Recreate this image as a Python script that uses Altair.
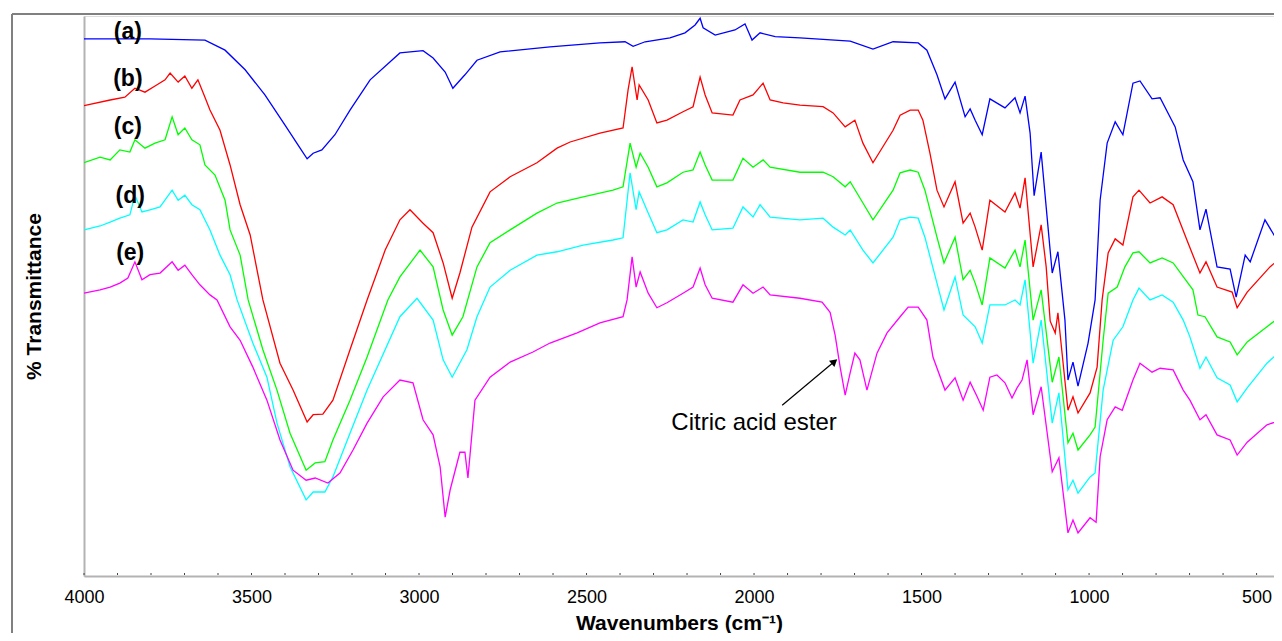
import altair as alt
import pandas as pd

FONT = "Liberation Sans"
W, H = 1190, 560

# ---- spectra (wavenumber, % transmittance, arbitrary offset units) ----
a_wn = [4000, 3803, 3639, 3579, 3519, 3460, 3400, 3355, 3334, 3316, 3290, 3251, 3206, 3146, 3057, 2988, 2958, 2922, 2899, 2863,
        2827, 2758, 2609, 2460, 2385, 2361, 2325, 2251, 2206, 2176, 2161, 2152, 2116, 2057, 2027, 2006, 1982, 1937, 1863, 1713,
        1645, 1585, 1510, 1484, 1454, 1430, 1400, 1370, 1355, 1340, 1319, 1296, 1251, 1221, 1206, 1191, 1176, 1164, 1143, 1110,
        1093, 1072, 1063, 1048, 1033, 1003, 982, 967, 946, 922, 899, 869, 848, 812, 788, 743, 719, 690, 669, 651,
        618, 579, 561, 534, 519, 475, 439, 424]
a_val = [95.9, 95.9, 95.7, 93.9, 90.4, 85.9, 80.5, 76.4, 74.5, 75.5, 76.1, 78.8, 83.2, 88.6, 93.4, 93.8, 92.5, 90.0, 87.1, 89.5,
         92.1, 93.6, 94.5, 95.2, 95.4, 94.6, 95.4, 96.1, 97.0, 98.4, 99.6, 97.9, 96.6, 97.5, 98.6, 95.7, 97.0, 96.3, 96.1, 95.5,
         94.1, 95.4, 95.2, 93.9, 89.5, 85.2, 88.2, 82.0, 83.4, 81.4, 78.8, 85.2, 83.6, 85.4, 82.7, 85.7, 79.1, 67.9, 75.7, 54.1,
         57.9, 45.7, 35.0, 38.2, 33.9, 41.6, 49.3, 67.1, 77.3, 81.1, 78.8, 88.0, 88.4, 85.2, 85.4, 80.2, 74.3, 70.4, 61.8, 65.5,
         55.2, 54.8, 49.8, 57.3, 56.1, 63.6, 60.0, 64.8]

b_wn = [4000, 3922, 3878, 3848, 3818, 3788, 3758, 3743, 3719, 3699, 3678, 3660, 3639, 3624, 3594, 3564, 3534, 3504, 3466, 3415,
        3376, 3334, 3316, 3287, 3257, 3206, 3155, 3101, 3057, 3027, 2988, 2958, 2928, 2901, 2878, 2842, 2788, 2728, 2648, 2588,
        2549, 2460, 2391, 2376, 2364, 2349, 2343, 2316, 2290, 2260, 2212, 2182, 2161, 2146, 2125, 2063, 2042, 2003, 1973, 1952,
        1913, 1863, 1794, 1764, 1728, 1699, 1675, 1645, 1585, 1564, 1534, 1510, 1496, 1475, 1454, 1433, 1400, 1376, 1355, 1340,
        1319, 1296, 1251, 1221, 1206, 1191, 1167, 1143, 1128, 1116, 1101, 1093, 1063, 1048, 1033, 997, 976, 961, 943, 922,
        899, 869, 851, 818, 782, 749, 708, 669, 651, 618, 573, 558, 528, 460, 424]
b_val = [84.0, 85.0, 85.5, 87.1, 86.4, 87.5, 88.6, 89.8, 88.2, 89.3, 87.1, 88.6, 85.5, 83.2, 79.6, 73.4, 66.3, 60.9, 49.3, 38.0,
         33.2, 27.5, 28.8, 28.9, 31.4, 40.4, 49.3, 58.2, 63.6, 65.4, 63.0, 61.3, 55.9, 49.6, 54.1, 62.3, 68.6, 71.3, 73.8, 76.4,
         77.5, 79.1, 80.0, 86.8, 90.9, 85.0, 87.7, 85.0, 80.9, 81.4, 82.9, 83.8, 89.1, 85.9, 82.7, 82.3, 85.0, 85.9, 88.0, 85.0,
         84.5, 84.1, 83.8, 82.7, 80.2, 81.4, 77.3, 73.8, 79.6, 82.3, 83.2, 83.2, 81.4, 75.5, 68.9, 65.9, 70.4, 63.0, 64.8, 62.3,
         58.2, 67.1, 65.0, 68.4, 65.7, 71.1, 55.2, 62.7, 55.2, 45.5, 43.4, 47.0, 29.6, 32.0, 29.1, 32.7, 37.3, 49.3, 57.7, 60.2,
         59.1, 67.7, 68.9, 66.6, 67.7, 66.3, 60.0, 54.1, 56.1, 51.6, 50.7, 47.9, 50.7, 55.2, 57.0]

c_wn = [4000, 3952, 3922, 3893, 3863, 3848, 3818, 3788, 3758, 3737, 3719, 3699, 3678, 3654, 3639, 3609, 3579, 3564, 3534, 3510,
        3466, 3424, 3385, 3337, 3310, 3281, 3257, 3206, 3155, 3093, 3057, 2997, 2958, 2928, 2901, 2869, 2827, 2788, 2728, 2648,
        2588, 2510, 2421, 2391, 2370, 2352, 2340, 2316, 2290, 2260, 2212, 2182, 2161, 2146, 2125, 2063, 2033, 2003, 1973, 1952,
        1863, 1794, 1764, 1728, 1713, 1675, 1645, 1585, 1564, 1534, 1510, 1490, 1454, 1433, 1400, 1376, 1355, 1340, 1319, 1296,
        1251, 1221, 1206, 1191, 1167, 1143, 1110, 1090, 1063, 1048, 1033, 997, 982, 958, 943, 916, 893, 869, 851, 818,
        782, 749, 690, 675, 654, 618, 579, 558, 528, 469, 424]
c_val = [73.8, 74.8, 74.3, 76.1, 75.7, 77.9, 76.4, 77.3, 77.9, 82.0, 78.8, 80.0, 77.9, 77.0, 73.4, 71.6, 67.1, 61.8, 57.3, 49.3,
         40.4, 33.2, 25.5, 18.9, 20.2, 20.4, 24.3, 31.4, 39.1, 49.3, 53.4, 58.2, 55.2, 47.5, 43.0, 46.3, 55.2, 59.5, 61.8, 64.8,
         66.6, 67.7, 68.9, 69.5, 77.3, 73.0, 75.5, 73.0, 69.5, 70.2, 72.1, 72.5, 75.7, 73.4, 70.7, 70.7, 74.6, 73.0, 74.3, 73.0,
         72.1, 72.1, 71.3, 69.5, 70.4, 66.6, 63.6, 68.9, 72.0, 72.5, 72.1, 68.9, 60.5, 55.9, 60.5, 52.9, 54.6, 52.3, 48.4, 56.8,
         55.0, 58.2, 55.2, 60.0, 45.7, 51.1, 34.6, 39.1, 23.8, 25.5, 22.5, 25.2, 26.6, 42.1, 50.5, 51.6, 55.2, 57.7, 57.9, 55.9,
         56.8, 55.9, 51.1, 46.6, 46.3, 42.7, 41.8, 39.5, 41.8, 44.5, 46.6]

d_wn = [4000, 3952, 3922, 3893, 3863, 3848, 3827, 3803, 3773, 3737, 3719, 3699, 3678, 3654, 3624, 3594, 3564, 3543, 3496, 3454,
        3424, 3385, 3337, 3316, 3281, 3257, 3206, 3155, 3057, 3006, 2958, 2928, 2901, 2857, 2827, 2788, 2728, 2648, 2588, 2510,
        2421, 2391, 2370, 2352, 2343, 2316, 2290, 2260, 2212, 2182, 2161, 2146, 2125, 2063, 2033, 2003, 1982, 1952, 1863, 1794,
        1764, 1728, 1713, 1675, 1645, 1585, 1564, 1534, 1510, 1490, 1454, 1433, 1400, 1376, 1340, 1319, 1296, 1251, 1221, 1206,
        1191, 1167, 1143, 1110, 1090, 1063, 1048, 1033, 997, 982, 958, 928, 899, 869, 851, 818, 782, 749, 719, 699,
        669, 651, 618, 579, 558, 528, 469, 424]
d_val = [61.8, 62.5, 63.2, 63.9, 64.5, 68.0, 65.0, 65.4, 65.9, 68.9, 67.1, 68.0, 66.3, 65.4, 61.8, 57.3, 53.8, 49.3, 41.6, 35.5,
         27.3, 19.5, 13.6, 15.0, 15.0, 17.7, 25.5, 33.2, 46.3, 49.6, 45.7, 38.6, 35.5, 40.4, 46.3, 51.6, 54.6, 57.3, 57.9, 59.1,
         60.0, 60.4, 72.0, 65.4, 68.6, 64.8, 61.3, 61.8, 63.6, 63.2, 66.8, 64.5, 61.8, 62.1, 65.9, 64.1, 66.3, 64.1, 63.6, 63.9,
         62.3, 60.9, 61.8, 58.2, 55.9, 60.5, 63.6, 64.1, 63.9, 60.5, 52.3, 47.5, 53.4, 46.6, 44.5, 41.6, 48.4, 48.4, 49.3, 48.4,
         52.9, 38.0, 45.7, 27.3, 32.7, 15.4, 17.1, 14.8, 17.7, 18.4, 33.2, 42.1, 44.5, 49.3, 51.4, 49.3, 50.2, 48.9, 45.7, 42.7,
         37.1, 39.1, 35.4, 34.1, 31.1, 33.6, 38.0, 40.4]

e_wn = [4000, 3952, 3922, 3893, 3869, 3848, 3827, 3803, 3773, 3737, 3719, 3699, 3678, 3654, 3624, 3603, 3564, 3534, 3496, 3454,
        3415, 3376, 3337, 3310, 3272, 3236, 3197, 3155, 3107, 3057, 3018, 2988, 2958, 2937, 2922, 2907, 2878, 2863, 2854, 2833,
        2788, 2728, 2660, 2609, 2528, 2460, 2391, 2379, 2364, 2352, 2340, 2316, 2290, 2260, 2212, 2182, 2161, 2146, 2125, 2063,
        2033, 2003, 1973, 1952, 1863, 1797, 1773, 1758, 1743, 1728, 1713, 1699, 1684, 1663, 1633, 1603, 1564, 1540, 1510, 1484,
        1466, 1430, 1400, 1376, 1355, 1334, 1316, 1296, 1275, 1251, 1230, 1215, 1200, 1185, 1167, 1143, 1110, 1090, 1063, 1048,
        1033, 997, 979, 967, 946, 922, 901, 869, 848, 812, 788, 749, 719, 699, 669, 651, 618, 579, 558, 528,
        469, 424]
e_val = [50.5, 51.1, 51.6, 52.3, 53.2, 56.1, 52.9, 53.8, 54.1, 56.1, 54.6, 55.5, 53.8, 52.0, 50.2, 49.3, 44.5, 42.1, 37.3, 31.4,
         24.3, 18.9, 17.1, 17.5, 16.6, 18.4, 22.5, 27.3, 32.0, 35.0, 34.5, 27.9, 25.2, 19.5, 10.5, 15.4, 22.1, 22.1, 17.5, 31.4,
         35.5, 38.2, 40.0, 41.6, 43.4, 45.2, 46.3, 49.3, 57.0, 51.6, 54.3, 50.5, 47.9, 48.8, 50.5, 51.6, 55.0, 52.0, 49.6, 48.9,
         52.0, 50.5, 51.6, 50.2, 49.6, 48.9, 47.1, 43.0, 37.3, 32.3, 36.3, 39.8, 38.6, 33.2, 39.8, 43.4, 46.3, 48.0, 48.0, 45.7,
         39.1, 33.2, 35.4, 31.4, 34.6, 32.0, 29.6, 35.5, 35.9, 34.5, 31.8, 33.6, 35.0, 38.6, 28.8, 33.8, 18.6, 21.1, 7.7, 10.0,
         7.7, 10.4, 9.6, 21.3, 27.9, 30.2, 29.6, 35.0, 38.0, 36.4, 37.1, 36.8, 33.2, 31.4, 27.9, 28.8, 25.2, 24.3, 21.6, 23.9,
         27.0, 27.9]

series_names = ["a", "b", "c", "d", "e"]
series_colors = ["#0000ff", "#ff0000", "#00ff00", "#00ffff", "#ff00ff"]

# curve labels
label_text = ["(a)", "(b)", "(c)", "(d)", "(e)"]
label_wn = [3869, 3869, 3869, 3862, 3862]
label_val = [97.2, 88.75, 80.2, 67.9, 57.7]

# annotation
note_text = ["Citric acid ester"]
note_wn = [2000]
note_val = [27.3]
arrow_wn, arrow_val = [1916], [30.5]
arrow_wn2, arrow_val2 = [1760], [38.3]

x_ticks_major = [4000, 3500, 3000, 2500, 2000, 1500, 1000, 500]
x_ticks_minor = list(range(4000, 499, -100))

frames = []
for name, wn, val in zip(series_names, [a_wn, b_wn, c_wn, d_wn, e_wn], [a_val, b_val, c_val, d_val, e_val]):
    assert len(wn) == len(val), (name, len(wn), len(val))
    frames.append(pd.DataFrame({"wn": wn, "val": val, "series": name}))
df = pd.concat(frames, ignore_index=True)

x_scale = alt.Scale(domain=[448, 4000], reverse=True, nice=False, zero=False)
y_scale = alt.Scale(domain=[0, 100], nice=False, zero=False)

x_axis = alt.Axis(values=x_ticks_major, format="d", title="Wavenumbers (cm⁻¹)", grid=False,
                  ticks=False, tickSize=0, labelFlush=False, domainColor="#b3b3b3", domainWidth=2,
                  labelFont=FONT, labelFontSize=18, labelColor="#000000", labelPadding=12,
                  titleFont=FONT, titleFontSize=21, titleFontWeight="bold", titleColor="#000000",
                  titlePadding=6)
y_axis = alt.Axis(title="% Transmittance", labels=False, ticks=False, tickSize=0, grid=False,
                  domainColor="#b3b3b3", domainWidth=2, titleFont=FONT, titleFontSize=21,
                  titleFontWeight="bold", titleColor="#000000", titlePadding=40)

X = alt.X("wn:Q", scale=x_scale, axis=x_axis)
Y = alt.Y("val:Q", scale=y_scale, axis=y_axis)

lines = alt.Chart(df).mark_line(strokeWidth=1.3, clip=True).encode(
    x=X, y=Y,
    color=alt.Color("series:N", scale=alt.Scale(domain=series_names, range=series_colors), legend=None),
)

ticks = alt.Chart(pd.DataFrame({"wn": x_ticks_minor})).mark_rule(color="#444444", strokeWidth=1).encode(
    x=X, y=alt.value(H - 3), y2=alt.value(H - 1)
)

one = pd.DataFrame({"k": [0]})
frame_left = alt.Chart(one).mark_rule(color="#808080", strokeWidth=2).encode(
    x=alt.value(-72), y=alt.value(-2), y2=alt.value(H + 120)
)
frame_top = alt.Chart(one).mark_rule(color="#808080", strokeWidth=2).encode(
    x=alt.value(-72), x2=alt.value(W + 20), y=alt.value(-2)
)

labels = alt.Chart(pd.DataFrame({"wn": label_wn, "val": label_val, "t": label_text})).mark_text(
    font=FONT, fontSize=23, fontWeight="bold", align="center", baseline="middle", color="#000000"
).encode(x=X, y=Y, text="t:N")

note = alt.Chart(pd.DataFrame({"wn": note_wn, "val": note_val, "t": note_text})).mark_text(
    font=FONT, fontSize=24, align="center", baseline="middle", color="#000000"
).encode(x=X, y=Y, text="t:N")

arrow_df = pd.DataFrame({"wn": arrow_wn, "val": arrow_val, "wn2": arrow_wn2, "val2": arrow_val2})
arrow_line = alt.Chart(arrow_df).mark_rule(color="#000000", strokeWidth=1.2).encode(
    x=X, y=Y, x2="wn2:Q", y2="val2:Q"
)
arrow_head = alt.Chart(arrow_df).mark_point(shape="triangle-up", filled=True, size=70, angle=50,
                                            color="#000000", opacity=1).encode(
    x=alt.X("wn2:Q", scale=x_scale, axis=x_axis), y=alt.Y("val2:Q", scale=y_scale, axis=y_axis)
)

chart = alt.layer(frame_left, frame_top, lines, ticks, labels, note, arrow_line, arrow_head).properties(
    width=W, height=H,
    autosize=alt.AutoSizeParams(type="none"),
    padding={"left": 76, "top": 8, "right": 0, "bottom": 57},
).configure_view(stroke=None).configure(background="white")

chart.save("out.html", embed_options={"renderer": "svg", "actions": False})
